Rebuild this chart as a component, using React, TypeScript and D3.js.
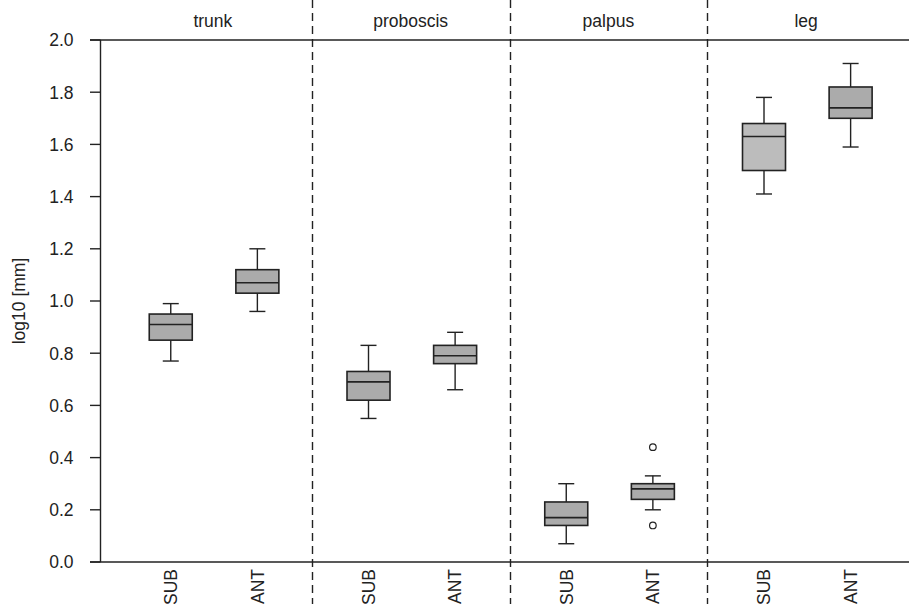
import React from 'react';
import * as d3 from 'd3';

// panels and groups
const panels = ['trunk', 'proboscis', 'palpus', 'leg'];
const groups = ['SUB', 'ANT'];

// log10 [mm] summaries, one entry per panel, in group order SUB, ANT
const lowWhisker = [[0.77, 0.96], [0.55, 0.66], [0.07, 0.20], [1.41, 1.59]];
const q1 = [[0.85, 1.03], [0.62, 0.76], [0.14, 0.24], [1.50, 1.70]];
const medians = [[0.91, 1.07], [0.69, 0.79], [0.17, 0.28], [1.63, 1.74]];
const q3 = [[0.95, 1.12], [0.73, 0.83], [0.23, 0.30], [1.68, 1.82]];
const highWhisker = [[0.99, 1.20], [0.83, 0.88], [0.30, 0.33], [1.78, 1.91]];
const outliers = [[[], []], [[], []], [[], [0.44, 0.14]], [[], []]];

const yTicks = [0, 0.2, 0.4, 0.6, 0.8, 1.0, 1.2, 1.4, 1.6, 1.8, 2.0];

const W = 909;
const H = 604;
const FONT = '"Liberation Sans", Arial, sans-serif';
const FS = 17.5;
const INK = '#222';

export default function App() {
  const x = d3.scaleLinear().domain([0, panels.length]).range([114, 905]);
  const y = d3.scaleLinear().domain([0, 2]).range([562, 40]);
  // position of each group inside its panel (panel units)
  const groupPos = d3.scaleOrdinal<string, number>().domain(groups).range([0.287, 0.725]);
  const boxW = 43;
  const capW = 16;
  const axisX = 100.5;

  const boxes: any[] = [];
  panels.forEach((p, i) => {
    groups.forEach((g, j) => {
      const cx = x(i + groupPos(g));
      const fill = p === 'leg' && g === 'SUB' ? '#bcbcbc' : '#ababab';
      boxes.push(
        <g key={p + g}>
          <line x1={cx} x2={cx} y1={y(lowWhisker[i][j])} y2={y(q1[i][j])} stroke={INK} strokeWidth={1.4} />
          <line x1={cx} x2={cx} y1={y(q3[i][j])} y2={y(highWhisker[i][j])} stroke={INK} strokeWidth={1.4} />
          <line x1={cx - capW / 2} x2={cx + capW / 2} y1={y(lowWhisker[i][j])} y2={y(lowWhisker[i][j])} stroke={INK} strokeWidth={1.4} />
          <line x1={cx - capW / 2} x2={cx + capW / 2} y1={y(highWhisker[i][j])} y2={y(highWhisker[i][j])} stroke={INK} strokeWidth={1.4} />
          <rect x={cx - boxW / 2} width={boxW} y={y(q3[i][j])} height={y(q1[i][j]) - y(q3[i][j])}
            fill={fill} stroke={INK} strokeWidth={1.6} />
          <line x1={cx - boxW / 2} x2={cx + boxW / 2} y1={y(medians[i][j])} y2={y(medians[i][j])} stroke={INK} strokeWidth={1.6} />
          {outliers[i][j].map((v: number, k: number) => (
            <circle key={k} cx={cx} cy={y(v)} r={3.3} fill="white" stroke={INK} strokeWidth={1.2} />
          ))}
          <text transform={`translate(${cx + 6.3},569) rotate(-90)`} textAnchor="end"
            fontFamily={FONT} fontSize={FS} fill={INK}>{g}</text>
        </g>
      );
    });
  });

  return (
    <svg width={W} height={H} style={{ position: 'absolute', left: 0, top: 0, background: 'white' }}>
      {/* frame lines */}
      <line x1={90} x2={W} y1={y(2)} y2={y(2)} stroke={INK} strokeWidth={1.4} />
      <line x1={90} x2={W} y1={y(0)} y2={y(0)} stroke={INK} strokeWidth={1.4} />
      <line x1={axisX} x2={axisX} y1={y(2)} y2={y(0)} stroke={INK} strokeWidth={1.4} />
      {yTicks.map(t => (
        <g key={t}>
          <line x1={90} x2={axisX} y1={y(t)} y2={y(t)} stroke={INK} strokeWidth={1.4} />
          <text x={73.5} y={y(t)} dy="0.36em" textAnchor="end" fontFamily={FONT} fontSize={FS} fill={INK}>
            {d3.format('.1f')(t)}
          </text>
        </g>
      ))}
      <text transform={`translate(25,${(y(0) + y(2)) / 2}) rotate(-90)`} textAnchor="middle"
        fontFamily={FONT} fontSize={FS} fill={INK}>log10 [mm]</text>
      {/* panel separators and titles */}
      {panels.slice(1).map((p, i) => (
        <line key={p} x1={Math.round(x(i + 1)) + 0.5} x2={Math.round(x(i + 1)) + 0.5} y1={0} y2={H}
          stroke={INK} strokeWidth={1.4} strokeDasharray="8,5" />
      ))}
      {panels.map((p, i) => (
        <text key={p} x={x(i + 0.5)} y={27} textAnchor="middle" fontFamily={FONT} fontSize={FS} fill={INK}>{p}</text>
      ))}
      {boxes}
    </svg>
  );
}
